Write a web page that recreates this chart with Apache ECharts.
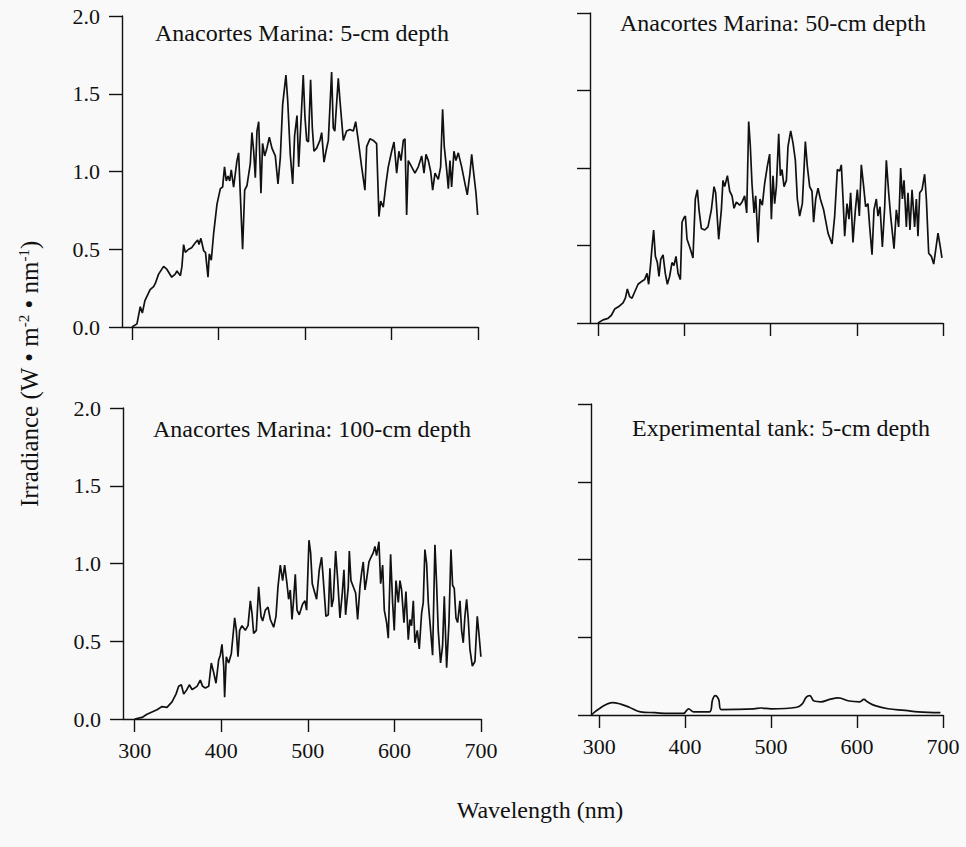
<!DOCTYPE html>
<html>
<head>
<meta charset="utf-8">
<script src="https://cdn.jsdelivr.net/npm/echarts@6/dist/echarts.min.js"></script>
<style>
html,body{margin:0;padding:0;background:#f9f9f9;}
#c{width:966px;height:847px;}
</style>
</head>
<body>
<div id="c"></div>
<script>
// ---- tick values ----
const xTicks = [300, 400, 500, 600, 700];
const yTicks = [0, 0.5, 1.0, 1.5, 2.0];

// ---- panel titles ----
const panelTitles = [
  'Anacortes Marina: 5-cm depth',
  'Anacortes Marina: 50-cm depth',
  'Anacortes Marina: 100-cm depth',
  'Experimental tank: 5-cm depth'
];

// ---- Anacortes Marina, 5 cm ----
const m5Nm = [300,305.8,309.6,312,315,321,325,327,330.8,336.6,340.5,346,350,352,356,357.8,359.7,361.7,365.5,369,373,376,377.5,379.7,382.9,385,387.9,389.4,391.7,394.4,398.3,402.2,404.8,407,409,411,413,414.8,417.5,421.4,423.3,425.2,427.9,430.3,433,436.8,438.7,440.7,442.6,444.5,446.5,449.1,451,453.4,456,458.8,461.8,465.7,468.8,471.5,474.2,478,480,483,485.8,488,490.8,492.7,495.8,498,500,502,504,506.5,508.5,510.4,513.5,517.3,519.3,522,524.3,527,530.8,532.7,534.5,538.5,540.4,544.3,548.1,552,555.9,558.6,561.6,565.5,569.3,571.3,575.1,579,582.8,585.5,587.5,590.5,593.6,596.3,600.2,602.9,606,608.6,611,613.7,615.6,617.5,619.4,623.3,627.1,631,634.9,637.6,639.9,642.6,645.3,647.6,650.3,654.1,656.8,659.1,661,663.8,665.7,667.6,669.5,672.2,674.5,677.2,681.1,685,687.6,690.7,692.7,694.6,697.7,699.6];
const m5Irr = [0.00,0.02,0.13,0.09,0.17,0.24,0.26,0.28,0.34,0.39,0.37,0.32,0.34,0.36,0.33,0.39,0.53,0.48,0.50,0.51,0.54,0.56,0.53,0.57,0.49,0.48,0.32,0.47,0.43,0.60,0.79,0.89,0.90,1.03,0.94,0.97,0.94,1.01,0.90,1.07,1.12,0.86,0.50,0.88,0.91,1.05,1.25,1.13,0.96,1.26,1.32,0.86,1.18,1.10,1.15,1.22,1.15,1.10,0.92,1.09,1.43,1.62,1.46,1.11,0.92,1.23,1.36,1.03,1.37,1.62,1.35,1.20,1.19,1.59,1.28,1.13,1.15,1.20,1.25,1.06,1.13,1.20,1.64,1.28,1.26,1.60,1.46,1.20,1.26,1.27,1.26,1.32,1.20,1.03,0.88,1.16,1.21,1.20,1.18,0.71,0.81,0.77,0.92,1.03,1.13,1.19,0.99,1.13,1.07,1.20,1.21,0.72,1.07,1.03,0.99,1.03,1.10,0.99,1.11,1.07,1.00,0.88,0.99,0.95,1.03,1.40,1.16,1.01,0.89,1.07,0.90,1.13,1.07,1.12,1.03,0.92,0.85,0.99,1.11,1.01,0.86,0.72];

// ---- Anacortes Marina, 50 cm ----
const m50Nm = [300,305.8,311.6,315.5,319.3,325,329,331.7,334,336.7,339.4,342.5,346.4,351,354,356.8,358.7,361,362.6,364.5,366.5,368.8,370.7,372.7,375.4,378,380.4,383,385.8,388,390.4,392.8,395.5,397.4,399.7,401.3,403.2,406.3,410.1,412.8,415.2,417.1,419.8,423.7,427.5,431.4,434.5,436.4,439.9,443,444.9,446.9,450,452.7,455.4,457.7,460.4,464.3,467,470,472.4,474.7,476.6,478.5,480.9,482.8,485.5,487.8,490.5,493.2,496.3,499,501,502.9,504.8,506.8,509.5,511.4,513.3,515.7,518.4,520.3,523.4,526.1,528.8,531.1,533.8,536.9,540.4,542.7,545.4,548.1,550,552.4,555.1,557.8,561.6,566.7,571.3,574.4,577.5,580.2,582.1,584.1,586,588.7,591,592.9,595.6,598.4,600.7,603,605.3,608,610.3,613,615,617.7,620,622.7,624.6,627,629.7,632.4,634.3,637,639.3,643.2,645.9,648.6,650.9,652.9,654.8,657.5,659.4,661.7,664.1,667.1,669.1,671,673,675.7,678.7,680.7,683.4,686.5,689.2,691.5,694.2,696.9,698.8];
const m50Irr = [0.00,0.02,0.03,0.05,0.09,0.11,0.13,0.16,0.22,0.17,0.16,0.20,0.25,0.27,0.28,0.32,0.25,0.38,0.49,0.60,0.43,0.39,0.30,0.41,0.44,0.32,0.25,0.30,0.39,0.37,0.43,0.32,0.28,0.65,0.68,0.69,0.54,0.49,0.42,0.80,0.86,0.73,0.61,0.60,0.62,0.73,0.88,0.84,0.54,0.73,0.92,0.88,0.95,0.85,0.82,0.74,0.78,0.76,0.78,0.82,0.71,1.30,1.14,0.90,0.71,0.82,0.52,0.80,0.76,0.90,1.01,1.09,0.67,0.95,0.77,0.88,1.22,0.95,0.99,0.88,0.92,1.14,1.24,1.16,1.05,0.80,0.69,0.77,1.17,1.01,0.88,0.85,0.65,0.80,0.87,0.80,0.73,0.58,0.51,0.69,0.99,0.98,1.02,0.80,0.56,0.77,0.67,0.84,0.52,0.73,0.86,0.69,1.02,0.88,0.75,0.77,0.62,0.44,0.73,0.80,0.69,0.75,0.49,0.75,1.05,0.84,0.69,0.48,0.73,0.62,1.00,0.80,0.92,0.62,0.84,0.60,0.86,0.62,0.80,0.56,0.84,0.86,0.96,0.80,0.45,0.43,0.38,0.47,0.58,0.49,0.42];

// ---- Anacortes Marina, 100 cm ----
const m100Nm = [300,308.5,314.2,320,325.8,331.6,337.3,343.1,347.7,350.8,353.9,356.6,360.4,363.1,366.2,369.3,372,375.8,378.5,381.6,385.5,388.5,391.2,393.9,397,398.9,400.8,402.8,403.9,405.8,408.5,411.6,415.5,417.4,419.3,421.2,423.9,427.8,430.9,433.6,435.5,437.4,440.5,443.2,445.9,447.8,450.9,454,456.7,460.5,463.2,465.5,468.2,470.9,473.2,475.9,477.8,479.7,481.7,483.6,485.5,487.5,490.1,494,496.7,498.6,501.3,503.2,505.1,507.1,510.1,513.2,515.9,517.8,520.9,523.6,525.5,527.5,529.4,532.1,534.4,537.1,539.8,541.7,543.6,546.7,547.9,549.8,552.5,555.2,557.5,560.2,562.1,564,566,567.9,570.6,572.9,575.6,577.5,579.4,582.1,584.1,586.4,588.3,591,592.9,595.6,597.9,599.8,601.8,604.5,606.4,608.3,611,613.3,616,617.9,619.8,621.8,623.7,626.4,628.7,631.4,633.3,635.2,637.2,639.1,641.8,644.1,646.8,648.7,650.6,653.3,655.6,657.6,660.3,663,665.3,667.2,669.1,671.1,673,675.7,677.6,679.5,681.4,683.4,685.3,687.2,690,693,695.7,697.6,699.9];
const m100Irr = [0.00,0.01,0.03,0.045,0.06,0.08,0.075,0.11,0.16,0.21,0.22,0.16,0.19,0.22,0.19,0.20,0.21,0.25,0.21,0.20,0.21,0.36,0.30,0.23,0.38,0.41,0.48,0.34,0.14,0.40,0.36,0.42,0.65,0.57,0.40,0.57,0.60,0.57,0.60,0.76,0.68,0.55,0.57,0.85,0.66,0.63,0.70,0.72,0.64,0.59,0.66,0.85,0.99,0.89,0.99,0.87,0.77,0.83,0.64,0.77,0.93,0.70,0.67,0.74,0.76,0.70,1.15,1.07,0.87,0.83,0.77,0.96,1.04,0.90,0.66,0.67,0.97,0.72,0.77,1.08,0.90,0.65,0.81,0.96,0.67,0.85,1.08,0.89,0.85,0.81,0.64,0.85,0.94,1.01,0.83,0.90,1.01,1.04,1.07,1.11,1.05,1.14,0.87,0.99,0.70,0.62,0.52,1.06,0.75,0.57,0.89,0.75,0.89,0.83,0.62,0.82,0.51,0.64,0.60,0.76,0.49,0.57,0.45,0.68,0.75,1.09,1.00,0.75,0.57,0.41,1.12,0.87,0.57,0.36,0.47,0.79,0.33,0.62,1.09,0.86,0.84,0.65,0.62,0.76,0.57,0.49,0.66,0.77,0.64,0.45,0.34,0.37,0.66,0.55,0.40];

// ---- Experimental tank, 5 cm ----
const tankNm = [291,295,300,307,315,325,335,348,365,380,398,404,410,428,432,435,439,442,460,480,488,500,530,536,541,545,550,558,568,578,591,603,608,612,621,636,656,671,697];
const tankIrr = [0.00,0.02,0.04,0.065,0.08,0.07,0.05,0.02,0.015,0.01,0.01,0.04,0.02,0.02,0.10,0.125,0.10,0.035,0.036,0.04,0.045,0.04,0.05,0.07,0.115,0.125,0.09,0.085,0.10,0.11,0.09,0.085,0.10,0.085,0.06,0.04,0.03,0.02,0.015];

const seriesNm = [m5Nm, m50Nm, m100Nm, tankNm];
const seriesIrr = [m5Irr, m50Irr, m100Irr, tankIrr];

// ---- layout (pixels) ----
const panels = [
  {left:122, top:16,  width:356, height:311, xmin:288.5, xLabels:false, yLabels:true,  tx:155, ty:33},
  {left:590, top:13,  width:353, height:310, xmin:290.7, xLabels:false, yLabels:false, tx:620, ty:23},
  {left:123, top:408, width:358, height:311, xmin:286.5, xLabels:true,  yLabels:true,  tx:153, ty:429},
  {left:591, top:404, width:352, height:311, xmin:290.5, xLabels:true,  yLabels:false, tx:632, ty:428}
];

const INK = '#111111';
const FONT = '"Liberation Serif", "Times New Roman", serif';

const option = {
  backgroundColor: '#f9f9f9',
  animation: false,
  grid: panels.map(p => ({left:p.left, top:p.top, width:p.width, height:p.height, containLabel:false})),
  xAxis: panels.map((p, i) => ({
    type: 'value', gridIndex: i, min: p.xmin, max: 700,
    axisLine: {show:true, onZero:false, lineStyle:{color:INK, width:1.4}},
    axisTick: {show:true, length:13, customValues:xTicks, lineStyle:{color:INK, width:1.4}},
    axisLabel: {show:p.xLabels, customValues:xTicks, margin:20, color:INK, fontFamily:FONT, fontSize:22},
    splitLine: {show:false}
  })),
  yAxis: panels.map((p, i) => ({
    type: 'value', gridIndex: i, min: 0, max: 2, interval: 0.5,
    axisLine: {show:true, onZero:false, lineStyle:{color:INK, width:1.4}},
    axisTick: {show:true, length:13, lineStyle:{color:INK, width:1.4}},
    axisLabel: {show:p.yLabels, margin:22, color:INK, fontFamily:FONT, fontSize:22,
                formatter: v => v.toFixed(1)},
    splitLine: {show:false}
  })),
  series: seriesNm.map((nm, i) => ({
    type: 'line', xAxisIndex: i, yAxisIndex: i,
    data: nm.map((x, k) => [x, seriesIrr[i][k]]),
    showSymbol: false, symbol: 'none',
    smooth: i === 3 ? 0.4 : false,
    lineStyle: {color: INK, width: 1.7},
    emphasis: {disabled: true}
  })),
  graphic: [
    ...panels.map((p, i) => ({
      type: 'text', x: p.tx, y: p.ty,
      style: {text: panelTitles[i], fill: INK, font: '24px ' + FONT, textVerticalAlign: 'middle'}
    })),
    {
      type: 'text', x: 540, y: 810,
      style: {text: 'Wavelength (nm)', fill: INK, font: '24px ' + FONT, textAlign: 'center', textVerticalAlign: 'middle'}
    },
    {
      type: 'text', x: 29, y: 374, rotation: Math.PI / 2,
      style: {
        text: 'Irradiance (W • m{sup|-2} • nm{sup|-1})',
        fill: INK, font: '25px ' + FONT, fontFamily: FONT, fontSize: 25,
        textAlign: 'center', textVerticalAlign: 'middle',
        rich: {sup: {fontSize: 15, fontFamily: FONT, fill: INK, verticalAlign: 'top', padding:[0,0,10,0]}}
      }
    }
  ]
};

const chart = echarts.init(document.getElementById('c'), null, {renderer: 'svg', width: 966, height: 847});
chart.setOption(option);
</script>
</body>
</html>
